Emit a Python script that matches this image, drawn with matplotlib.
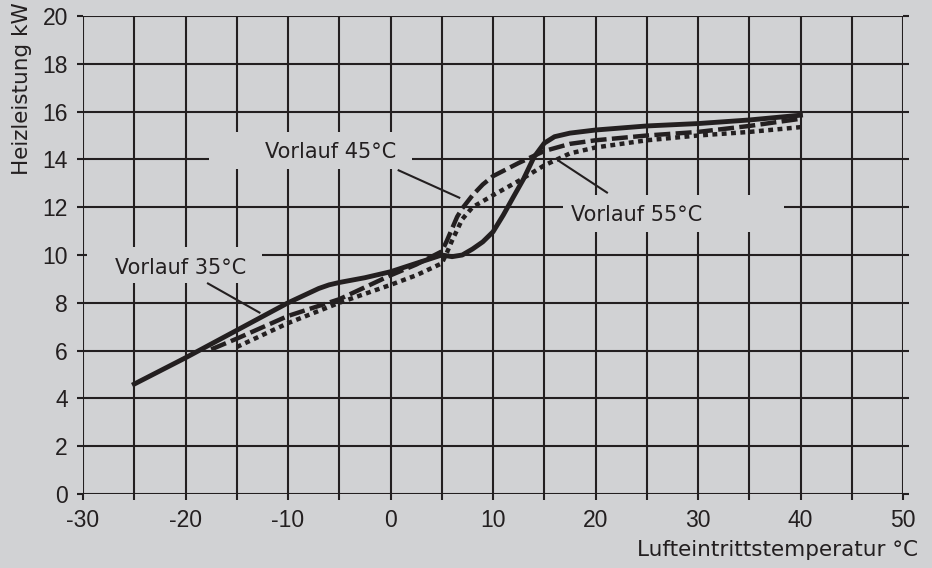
import matplotlib.pyplot as plt
from matplotlib.patches import Rectangle

BG = "#d1d2d4"
INK = "#231f20"

# Vorlauf 35 °C (solid)
t_35 = [-25, -20, -15, -10, -7, -6, -5, -2.5, 0, 2.5, 5, 6, 7, 8, 9, 10, 11, 12, 13, 14,
        15, 16, 17.5, 20, 25, 30, 35, 40]
p_35 = [4.6, 5.7, 6.85, 8.0, 8.6, 8.75, 8.85, 9.05, 9.3, 9.65, 10.0, 9.93, 10.0, 10.25,
        10.55, 10.97, 11.67, 12.44, 13.2, 14.1, 14.68, 14.95, 15.1, 15.23, 15.4, 15.5,
        15.65, 15.85]

# Vorlauf 45 °C (dashed)
t_45 = [-17.5, -15, -10, -5, 0, 2.5, 5, 5.5, 6, 6.5, 7, 8, 9, 10, 12.5, 15, 17.5, 20,
        25, 30, 35, 40]
p_45 = [6.05, 6.5, 7.45, 8.15, 9.15, 9.6, 10.15, 10.6, 11.1, 11.6, 11.95, 12.5, 12.95,
        13.3, 13.85, 14.35, 14.65, 14.8, 15.0, 15.15, 15.4, 15.7]

# Vorlauf 55 °C (dotted)
t_55 = [-15, -10, -5, 0, 2.5, 5, 5.5, 6, 7, 8, 10, 12.5, 15, 17.5, 20, 25, 30, 35, 40]
p_55 = [6.15, 7.15, 8.0, 8.75, 9.15, 9.65, 10.1, 10.6, 11.5, 12.0, 12.5, 13.1, 13.75,
        14.25, 14.5, 14.8, 15.0, 15.15, 15.35]

x_ticks = list(range(-30, 51, 10))
x_grid = list(range(-30, 51, 5))
y_ticks = list(range(0, 21, 2))

# label box (x0, x1, y0, y1), text anchor, leader line
labels = [
    ("Vorlauf 45°C", (-17.7, 2.1, 13.6, 15.15), (-12.2, 14.3), ((0.7, 6.8), (13.56, 12.38))),
    ("Vorlauf 55°C", (16.8, 38.4, 10.96, 12.51), (17.6, 11.67), ((16.3, 21.2), (13.97, 12.59))),
    ("Vorlauf 35°C", (-29.6, -12.5, 8.83, 10.33), (-26.9, 9.46), ((-17.9, -12.7), (8.83, 7.57))),
]

fig = plt.figure(figsize=(9.32, 5.68), dpi=100, facecolor=BG)
ax = fig.add_axes([0.0891, 0.1303, 0.8798, 0.8415], facecolor=BG)

for x in x_grid:
    ax.axvline(x, color=INK, lw=1.5, zorder=1)
for y in y_ticks:
    ax.axhline(y, color=INK, lw=1.5, zorder=1)

for text, (x0, x1, y0, y1), (tx, ty), (lx, ly) in labels:
    ax.add_patch(Rectangle((x0, y0), x1 - x0, y1 - y0, facecolor=BG, edgecolor="none", zorder=2))
    ax.text(tx, ty, text, ha="left", va="center", fontsize=15, family="DejaVu Sans",
            color=INK, zorder=3)
    ax.plot(lx, ly, color=INK, lw=1.5, zorder=3, solid_capstyle="butt")

ax.plot(t_35, p_35, color=INK, lw=3.5, zorder=4, solid_joinstyle="round")
ax.plot(t_45, p_45, color=INK, lw=3.2, zorder=4, dashes=(3.6, 1.2), dash_capstyle="butt")
ax.plot(t_55, p_55, color=INK, lw=3.2, zorder=4, dashes=(1.1, 1.0), dash_capstyle="butt")

ax.set_xlim(-30, 50)
ax.set_ylim(0, 20)
ax.set_xticks(x_grid)
ax.set_xticklabels([str(x) if x in x_ticks else "" for x in x_grid])
ax.set_yticks(y_ticks)
for s in ax.spines.values():
    s.set_visible(False)
ax.tick_params(axis="both", direction="out", length=4, width=1.5, color=INK,
               labelsize=16.5, labelcolor=INK, pad=7)
ax.tick_params(axis="y", right=True)
for lab in ax.get_xticklabels() + ax.get_yticklabels():
    lab.set_family("Liberation Sans")

fig.text(22 / 932, 1 - 2 / 568, "Heizleistung kW", rotation=90, ha="center", va="top",
         fontsize=15.5, family="DejaVu Sans", color=INK)
fig.text(918 / 932, 1 - 550 / 568, "Lufteintrittstemperatur °C", ha="right", va="center",
         fontsize=15.5, family="DejaVu Sans", color=INK)

fig.savefig("out.png", dpi=100, facecolor=BG)
